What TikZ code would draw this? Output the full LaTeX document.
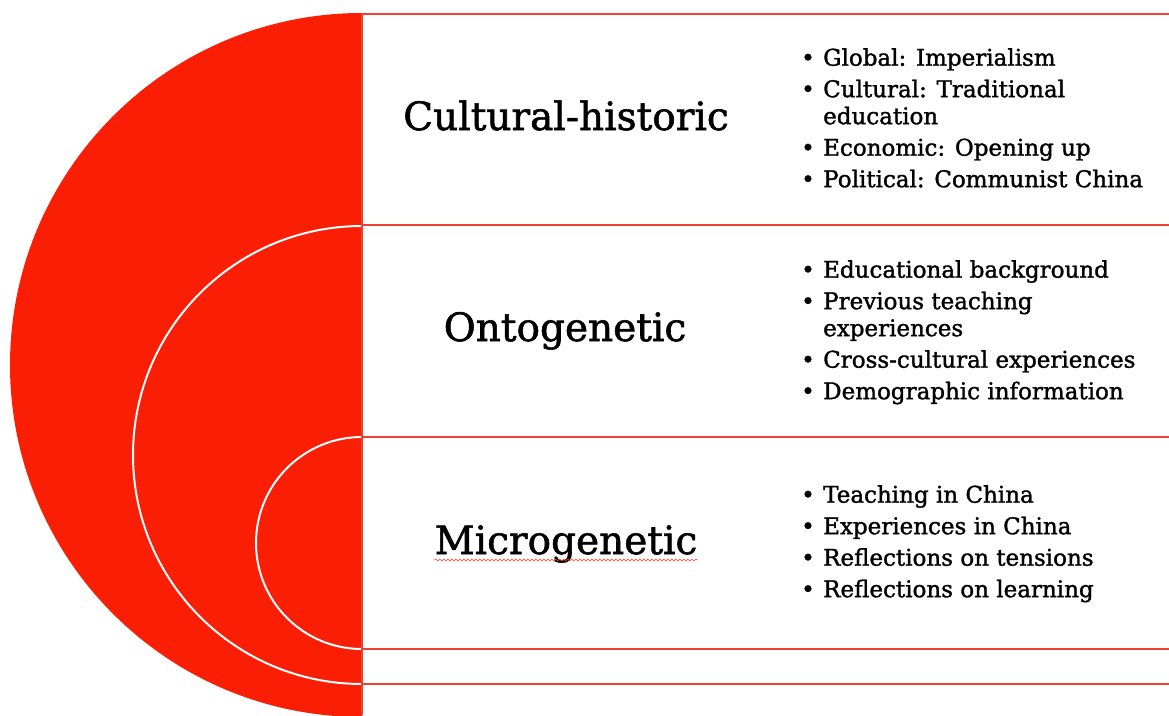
\documentclass[tikz,border=0pt]{standalone}
\usepackage{fontspec}
\setmainfont{DejaVu Serif}
\newfontfamily\slab[FakeBold=1.4]{DejaVu Serif}
\usetikzlibrary{positioning, decorations.pathmorphing}
\definecolor{disc_red}{HTML}{F91E04}
\definecolor{rule_red}{HTML}{F0402F}
\tikzset{
  layer/.style={font=\slab\fontsize{39}{46}\selectfont,anchor=base,inner sep=0pt},
  points/.style={font=\slab\fontsize{23}{27}\selectfont,align=left,anchor=north west,inner sep=0pt},
  rim/.style={draw=white,line width=2pt},
  band/.style={draw=rule_red,line width=1.3pt},
  typo/.style={draw=rule_red,line width=0.6pt,decorate,decoration={snake,amplitude=1pt,segment length=4pt}},
}
\newcommand{\bul}{\makebox[22pt][l]{\textbullet}}
\newcommand{\cont}{\hspace*{22pt}}

\begin{document}
\begin{tikzpicture}[x=1pt,y=-1pt]
	    \useasboundingbox (0,0) rectangle (1169,715);
	    % half disc and its rims
	    \begin{scope}
	        \clip (0,0) rectangle (362,715);
	        \fill[disc_red] (362,365) circle[radius=352];
	    \end{scope}
	    \draw[rim] (362,226) arc[start angle=-90,end angle=-270,radius=229];
	    \draw[rim] (362,437) arc[start angle=-90,end angle=-270,radius=106];
	    % bands
	    \draw[band] (1169,14) -- (362,14) -- (362,715);
	    \foreach \y in {225,437,649,684}
	        \draw[band] (362,\y) -- (1169,\y);
	    % layer names
	    \node[layer] (CH) at (566,130) {Cultural-historic};
	    \node[layer] (OG) at (565,341) {Ontogenetic};
	    \node[layer] (MG) at (566,554) {Microgenetic};
	    \draw[typo] (MG.base west) ++(0,6) coordinate (MGa) -- (MG.base east |- MGa);
	    % bullet lists
	    \node[points] (CHlist) at (801,48) {\bul Global: Imperialism\\[4.5pt]
	        \bul Cultural: Traditional\\ \cont education\\[4.5pt]
	        \bul Economic: Opening up\\[4.5pt]
	        \bul Political: Communist China};
	    \node[points] (OGlist) at (801,260) {\bul Educational background\\[4.5pt]
	        \bul Previous teaching\\ \cont experiences\\[4.5pt]
	        \bul Cross-cultural experiences\\[4.5pt]
	        \bul Demographic information};
	    \node[points] (MGlist) at (801,485) {\bul Teaching in China\\[4.5pt]
	        \bul Experiences in China\\[4.5pt]
	        \bul Reflections on tensions\\[4.5pt]
	        \bul Reflections on learning};
	\end{tikzpicture}
\end{document}
